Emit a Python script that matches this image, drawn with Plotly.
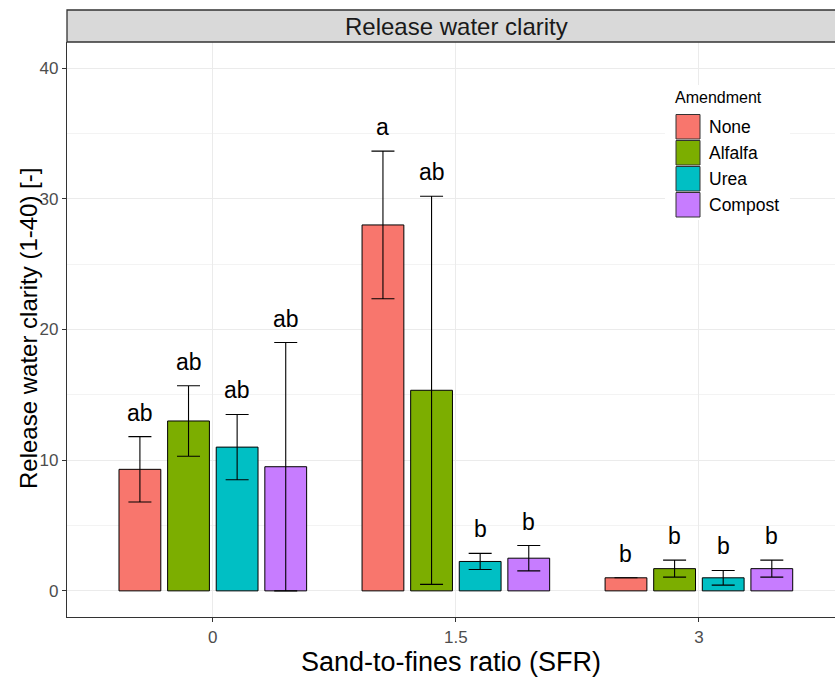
import plotly.graph_objects as go

# data
sfr_labels = ["0", "1.5", "3"]
amendments = ["None", "Alfalfa", "Urea", "Compost"]
colors = ["#F8766D", "#7CAE00", "#00BFC4", "#C77CFF"]

mean_none = [9.3, 28.0, 1.0]
mean_alfalfa = [13.0, 15.35, 1.7]
mean_urea = [11.0, 2.25, 1.0]
mean_compost = [9.5, 2.5, 1.7]

sd_none = [2.5, 5.65, None]
sd_alfalfa = [2.7, 14.85, 0.65]
sd_urea = [2.5, 0.62, 0.56]
sd_compost = [9.5, 0.97, 0.65]

letters_none = ["ab", "a", "b"]
letters_alfalfa = ["ab", "ab", "b"]
letters_urea = ["ab", "b", "b"]
letters_compost = ["ab", "b", "b"]

means = [mean_none, mean_alfalfa, mean_urea, mean_compost]
sds = [sd_none, sd_alfalfa, sd_urea, sd_compost]
letters = [letters_none, letters_alfalfa, letters_urea, letters_compost]

FONT = "Liberation Sans, Arial, sans-serif"
x_idx = list(range(len(sfr_labels)))
slot = 0.2  # dodge width per amendment

fig = go.Figure()

for i, name in enumerate(amendments):
    fig.add_trace(go.Bar(
        x=x_idx, y=means[i], name=name,
        marker=dict(color=colors[i], line=dict(color="black", width=1)),
        error_y=dict(type="data", array=sds[i], color="black",
                     thickness=1.1, width=11.5),
        showlegend=False,
    ))
    # significance letters above the error bars
    for g in x_idx:
        top = means[i][g] + (sds[i][g] or 0)
        fig.add_annotation(
            x=g + (i - 1.5) * slot, y=top, text=letters[i][g],
            showarrow=False, yanchor="middle", yshift=24,
            font=dict(family=FONT, size=23, color="black"),
        )

# pixel helpers for strip / legend placement
L, R, T, B = 67, 835, 42, 617
def px(x):
    return (x - L) / (R - L)
def py(y):
    return (B - y) / (B - T)

# facet strip
fig.add_shape(type="rect", xref="paper", yref="paper",
              x0=0, x1=1.02, y0=1, y1=py(10),
              fillcolor="#D9D9D9", line=dict(color="#333333", width=1.3))
fig.add_annotation(xref="paper", yref="paper", x=px(456), y=py(27),
                   xanchor="center", yanchor="middle",
                   text="Release water clarity", showarrow=False,
                   font=dict(family=FONT, size=24, color="#1A1A1A"))

# y axis title (placed by hand to sit where ggplot puts it)
fig.add_annotation(xref="paper", yref="paper", x=px(28), y=py(329),
                   xanchor="center", yanchor="middle", textangle=-90,
                   text="Release water clarity (1-40) [-]", showarrow=False,
                   font=dict(family=FONT, size=24, color="black"))

# legend drawn by hand (ggplot style keys)
fig.add_shape(type="rect", xref="paper", yref="paper",
              x0=px(665), x1=px(790), y0=py(220), y1=py(85),
              fillcolor="white", line=dict(width=0), layer="above")
fig.add_annotation(xref="paper", yref="paper", x=px(673), y=py(98),
                   xanchor="left", yanchor="middle",
                   text="Amendment", showarrow=False,
                   font=dict(family=FONT, size=16, color="black"))
for i, name in enumerate(amendments):
    y0 = 114.5 + 26 * i
    fig.add_shape(type="rect", xref="paper", yref="paper",
                  x0=px(676), x1=px(700), y0=py(y0 + 24.5), y1=py(y0),
                  fillcolor=colors[i], line=dict(color="#333333", width=1))
    fig.add_annotation(xref="paper", yref="paper", x=px(707), y=py(y0 + 12.5),
                       xanchor="left", yanchor="middle",
                       text=name, showarrow=False,
                       font=dict(family=FONT, size=17.5, color="black"))

fig.update_layout(
    width=835, height=679,
    margin=dict(l=L, r=835 - R, t=T, b=679 - B),
    paper_bgcolor="white", plot_bgcolor="white",
    barmode="group", bargap=0.2, bargroupgap=0.14,
    font=dict(family=FONT),
)

fig.update_xaxes(
    range=[-0.6, 2.56], tickvals=x_idx, ticktext=sfr_labels,
    showgrid=True, gridcolor="#EBEBEB", gridwidth=1.1,
    showline=True, linecolor="#333333", linewidth=1.3,
    ticks="outside", ticklen=4, tickcolor="#333333",
    tickfont=dict(family=FONT, size=17, color="#4D4D4D"),
    title=dict(text="Sand-to-fines ratio (SFR)", standoff=6,
               font=dict(family=FONT, size=27, color="black")),
    zeroline=False, automargin=False,
)
fig.update_yaxes(
    range=[-2, 42], tickvals=[0, 10, 20, 30, 40],
    showgrid=True, gridcolor="#EBEBEB", gridwidth=1.1,
    minor=dict(tickvals=[5, 15, 25, 35], showgrid=True,
               gridcolor="#F3F3F3", gridwidth=0.6, ticks=""),
    showline=True, linecolor="#333333", linewidth=1.3,
    ticks="outside", ticklen=4, tickcolor="#333333",
    tickfont=dict(family=FONT, size=17, color="#4D4D4D"),
    zeroline=False, automargin=False,
)

fig.write_html("out.html", config={"displayModeBar": False},
               post_script="document.body.style.margin='0';")
